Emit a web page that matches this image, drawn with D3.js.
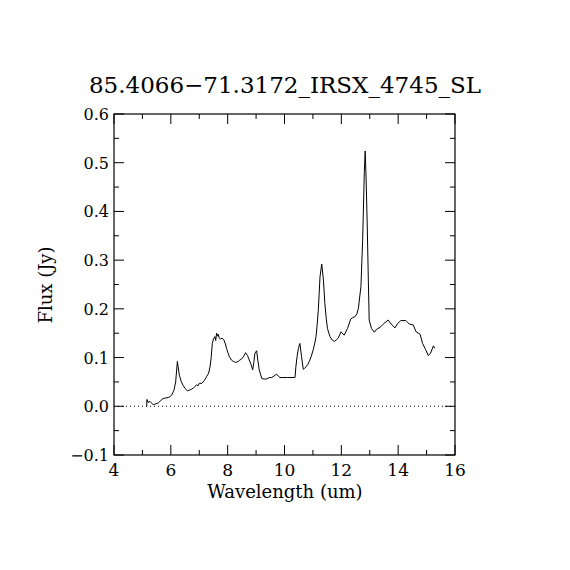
<!DOCTYPE html>
<html><head><meta charset="utf-8">
<script src="https://cdn.jsdelivr.net/npm/d3@7"></script>
<style>body{margin:0;background:#fff}svg{display:block}text{font-family:"DejaVu Serif","Liberation Serif",serif;fill:#000}</style>
</head><body><svg id="c" width="570" height="570"></svg>
<script>
const title = "85.4066\u221271.3172_IRSX_4745_SL";
const xLabel = "Wavelength (um)";
const yLabel = "Flux (Jy)";
const xTicks = [4, 6, 8, 10, 12, 14, 16];
const yTicks = [-0.1, 0.0, 0.1, 0.2, 0.3, 0.4, 0.5, 0.6];
const wavelength = [5.15,5.16,5.2,5.27,5.38,5.47,5.56,5.65,5.73,5.82,5.91,5.97,6.03,6.11,6.17,6.23,6.3,6.37,6.44,6.51,6.58,6.65,6.73,6.8,6.91,6.96,7.0,7.09,7.18,7.26,7.33,7.38,7.42,7.46,7.5,7.55,7.58,7.61,7.64,7.67,7.7,7.75,7.8,7.87,7.92,7.96,8.01,8.06,8.13,8.2,8.28,8.37,8.43,8.49,8.56,8.63,8.7,8.76,8.82,8.88,8.92,8.96,9.02,9.06,9.11,9.2,9.28,9.37,9.46,9.55,9.63,9.72,9.8,9.84,10.1,10.37,10.4,10.45,10.49,10.54,10.6,10.66,10.71,10.76,10.82,10.87,10.94,11.01,11.06,11.11,11.15,11.19,11.25,11.31,11.37,11.42,11.47,11.51,11.6,11.68,11.75,11.82,11.89,11.99,12.1,12.22,12.33,12.4,12.48,12.55,12.6,12.69,12.75,12.81,12.84,12.87,12.91,12.95,12.98,13.06,13.16,13.24,13.36,13.5,13.65,13.75,13.89,13.97,14.09,14.27,14.39,14.53,14.63,14.77,14.86,14.97,15.06,15.14,15.24,15.29];
const flux = [0.0,0.014,0.008,0.01,0.003,0.005,0.007,0.012,0.016,0.017,0.018,0.02,0.023,0.033,0.05,0.092,0.064,0.05,0.042,0.036,0.032,0.033,0.035,0.038,0.044,0.042,0.047,0.047,0.053,0.061,0.068,0.081,0.1,0.129,0.138,0.143,0.135,0.15,0.144,0.148,0.14,0.138,0.14,0.136,0.128,0.119,0.11,0.102,0.095,0.092,0.09,0.092,0.095,0.097,0.102,0.11,0.104,0.095,0.086,0.075,0.09,0.109,0.114,0.095,0.075,0.057,0.056,0.056,0.059,0.059,0.062,0.066,0.061,0.059,0.059,0.059,0.081,0.105,0.119,0.129,0.102,0.076,0.078,0.081,0.086,0.092,0.102,0.116,0.128,0.143,0.168,0.198,0.266,0.292,0.259,0.211,0.18,0.16,0.143,0.136,0.133,0.136,0.14,0.153,0.146,0.16,0.179,0.182,0.184,0.19,0.201,0.246,0.341,0.482,0.524,0.471,0.376,0.259,0.177,0.16,0.152,0.158,0.162,0.17,0.177,0.169,0.161,0.169,0.176,0.176,0.169,0.167,0.153,0.148,0.129,0.116,0.104,0.109,0.124,0.119];

const svg = d3.select("#c");
const L = 114, R = 455, T = 114, B = 455;
const x = d3.scaleLinear().domain([4, 16]).range([L, R]);
const y = d3.scaleLinear().domain([-0.1, 0.6]).range([B, T]);

svg.append("rect").attr("x", L).attr("y", T).attr("width", R - L).attr("height", B - T)
  .attr("fill", "none").attr("stroke", "#000").attr("stroke-width", 1.2);

const g = svg.append("g").attr("stroke", "#000").attr("stroke-width", 1);
d3.range(4, 16.01, 1).forEach(v => {
  const len = (v % 2 === 0) ? 10 : 5;
  g.append("line").attr("x1", x(v)).attr("x2", x(v)).attr("y1", B).attr("y2", B - len);
  g.append("line").attr("x1", x(v)).attr("x2", x(v)).attr("y1", T).attr("y2", T + len);
});
d3.range(-0.1, 0.6001, 0.05).forEach((v, i) => {
  const len = (i % 2 === 0) ? 10 : 5;
  g.append("line").attr("y1", y(v)).attr("y2", y(v)).attr("x1", L).attr("x2", L + len);
  g.append("line").attr("y1", y(v)).attr("y2", y(v)).attr("x1", R).attr("x2", R - len);
});

svg.selectAll(".xt").data(xTicks).enter().append("text")
  .attr("x", d => x(d)).attr("y", B + 21).attr("text-anchor", "middle")
  .attr("font-size", 17).text(d => d);
svg.selectAll(".yt").data(yTicks).enter().append("text")
  .attr("x", L - 5).attr("y", d => y(d) + 6).attr("text-anchor", "end")
  .attr("font-size", 16).text(d => (d < 0 ? "\u2212" : "") + Math.abs(d).toFixed(1));

svg.append("text").attr("x", 285).attr("y", 93).attr("text-anchor", "middle")
  .attr("font-size", 23).text(title);
svg.append("text").attr("x", 285).attr("y", 498).attr("text-anchor", "middle")
  .attr("font-size", 18).text(xLabel);
svg.append("text").attr("transform", "translate(52,285) rotate(-90)").attr("text-anchor", "middle")
  .attr("font-size", 18).text(yLabel);

svg.append("line").attr("x1", L).attr("x2", R).attr("y1", y(0)).attr("y2", y(0))
  .attr("stroke", "#000").attr("stroke-width", 1).attr("stroke-dasharray", "1,3");

const line = d3.line().x((d, i) => x(wavelength[i])).y(d => y(d));
svg.append("path").datum(flux).attr("d", line).attr("fill", "none")
  .attr("stroke", "#000").attr("stroke-width", 1);
</script></body></html>
